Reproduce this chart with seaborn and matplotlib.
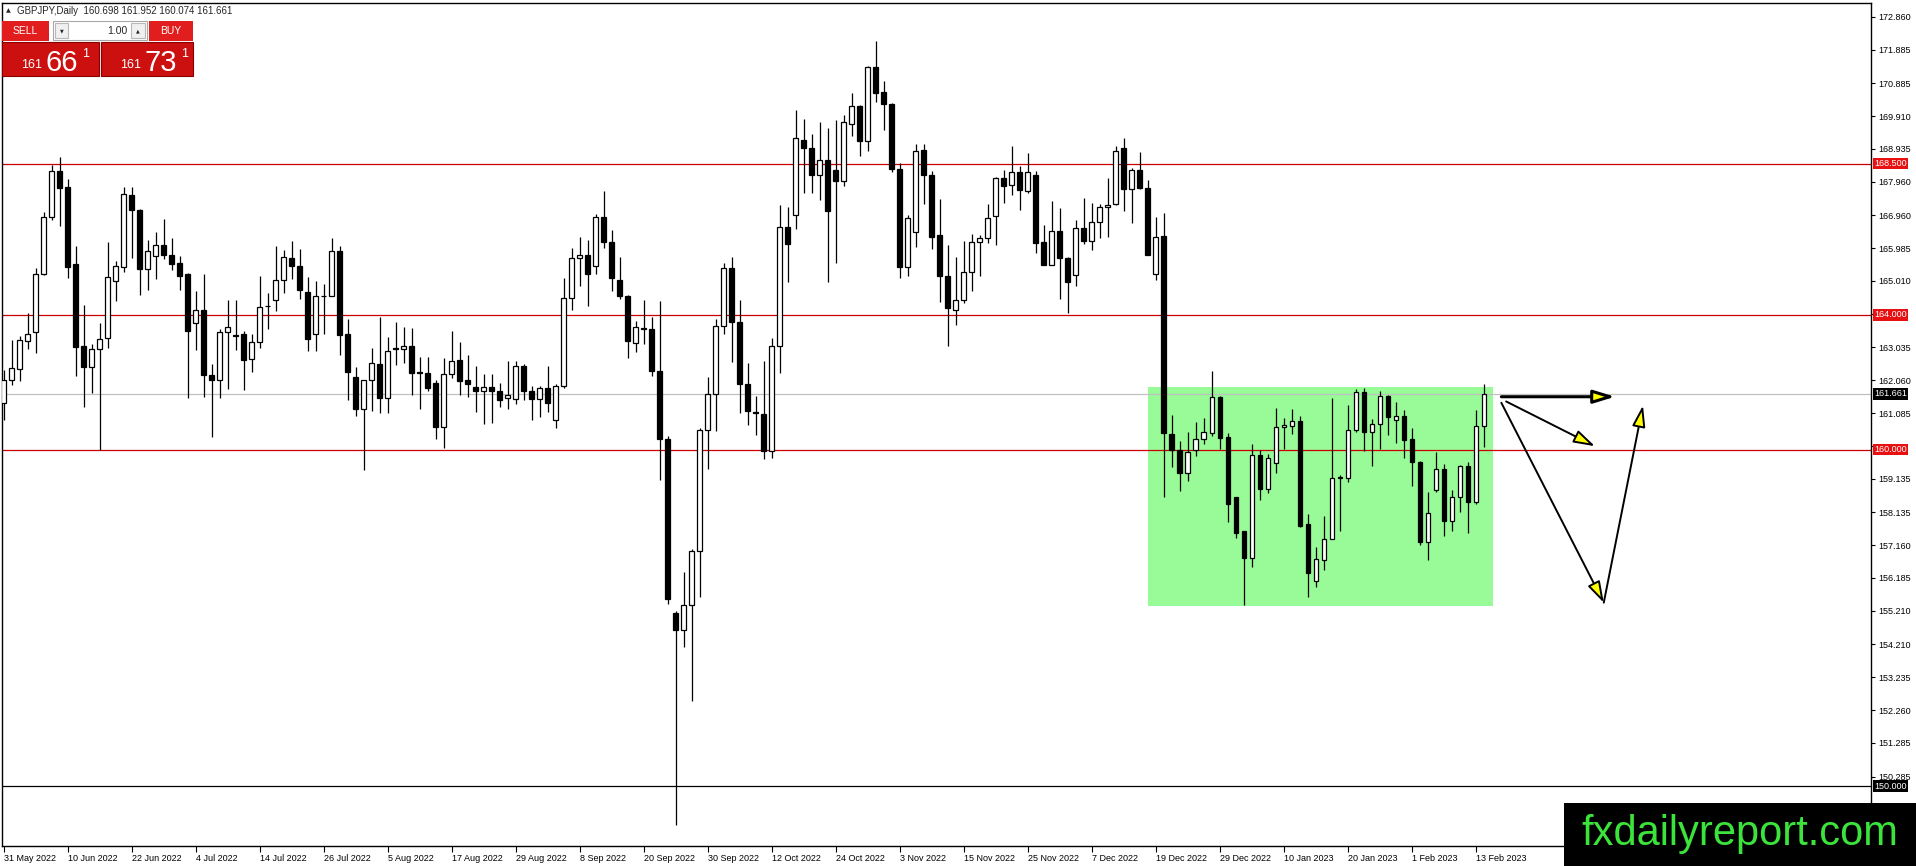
import numpy as np
import pandas as pd
import matplotlib
matplotlib.use("Agg")
import matplotlib.pyplot as plt
import matplotlib.patches as patches
from matplotlib.transforms import Affine2D, blended_transform_factory
import seaborn as sns

W, H = 1916, 866

# ---- data (GBPJPY daily) ----
dates = pd.bdate_range("2022-05-31", periods=186)

open_ = [
    161.37, 162.07, 162.40, 163.24, 163.50, 165.22, 166.91, 168.29, 167.79, 165.50,
    163.07, 162.46, 163.00, 163.32, 165.02, 165.44, 167.55, 167.13, 165.37, 165.76,
    166.09, 165.79, 165.53, 165.21, 163.77, 164.16, 162.21, 162.08, 163.48, 163.39,
    163.43, 162.68, 163.21, 164.28, 164.43, 165.05, 165.70, 165.46, 164.69, 163.42,
    164.55, 164.57, 165.91, 163.42, 162.17, 161.20, 162.07, 162.54, 161.54, 163.02,
    163.00, 163.09, 162.30, 162.29, 161.97, 160.68, 162.26, 162.65, 162.06, 161.85,
    161.73, 161.87, 161.75, 161.53, 161.50, 162.47, 161.75, 161.49, 161.84, 160.87,
    161.90, 164.49, 165.69, 165.78, 165.45, 166.92, 166.16, 165.05, 164.57, 163.16,
    163.60, 163.57, 162.32, 160.32, 155.13, 154.64, 155.39, 156.98, 160.59, 161.64,
    163.66, 165.39, 163.78, 161.96, 161.11, 161.06, 159.97, 163.07, 166.62, 166.98,
    169.21, 168.96, 168.17, 168.61, 168.30, 167.98, 169.67, 170.20, 169.18, 171.37,
    170.63, 170.26, 168.33, 165.43, 166.47, 168.90, 168.15, 166.39, 165.15, 164.14,
    164.43, 165.27, 166.16, 166.30, 166.95, 168.06, 167.87, 168.26, 167.67, 168.16,
    166.16, 165.47, 166.49, 165.69, 165.19, 166.57, 166.21, 166.75, 167.20, 167.29,
    168.95, 167.75, 168.30, 167.76, 165.21, 166.34, 160.47, 160.00, 159.30, 160.00,
    160.30, 160.49, 161.55, 160.37, 158.58, 157.57, 156.77, 159.85, 158.83, 159.59,
    160.68, 160.71, 160.84, 157.79, 156.09, 156.72, 157.35, 159.15, 159.15, 160.59,
    161.70, 160.51, 160.76, 161.58, 160.88, 160.99, 160.30, 159.64, 157.25, 158.80,
    159.43, 157.87, 158.58, 159.50, 158.44, 160.698,
]
high = [
    162.36, 163.27, 163.37, 164.05, 165.41, 167.05, 168.46, 168.68, 168.05, 166.06,
    164.29, 163.13, 163.75, 166.18, 165.61, 167.79, 167.79, 167.15, 166.24, 166.48,
    166.86, 166.29, 165.76, 165.25, 164.70, 165.23, 162.54, 163.58, 164.44, 164.44,
    163.52, 163.43, 165.16, 164.66, 166.04, 165.92, 166.21, 165.95, 165.12, 165.01,
    164.93, 166.30, 166.04, 163.87, 162.46, 162.08, 163.01, 163.93, 163.34, 163.80,
    163.64, 163.60, 162.74, 162.74, 162.08, 162.71, 163.51, 163.20, 162.81, 162.47,
    162.26, 162.26, 161.97, 162.64, 162.63, 162.55, 161.88, 161.88, 162.47, 161.96,
    165.09, 165.98, 166.31, 166.22, 167.01, 167.67, 166.53, 165.72, 164.60, 163.81,
    164.45, 163.93, 164.40, 160.41, 155.20, 156.36, 157.06, 160.64, 162.17, 163.87,
    165.54, 165.72, 164.45, 162.58, 161.58, 162.64, 163.31, 167.26, 167.20, 170.09,
    169.81, 169.38, 169.73, 169.56, 169.78, 169.93, 170.60, 170.25, 171.40, 172.13,
    170.96, 170.31, 168.53, 166.97, 169.08, 169.08, 168.29, 167.44, 166.09, 165.72,
    166.19, 166.41, 166.38, 167.30, 168.09, 168.32, 169.01, 168.44, 168.80, 168.27,
    166.67, 167.40, 167.17, 165.71, 166.82, 167.47, 167.33, 167.30, 168.06, 169.03,
    169.26, 168.36, 168.83, 168.01, 166.90, 167.02, 161.04, 160.24, 160.51, 160.81,
    160.93, 162.33, 161.60, 160.50, 158.60, 157.59, 160.17, 160.00, 159.87, 161.23,
    160.94, 161.21, 160.99, 158.09, 157.10, 158.02, 161.52, 159.23, 161.31, 161.80,
    161.83, 160.91, 161.73, 161.63, 161.41, 161.18, 160.64, 159.66, 158.73, 159.94,
    159.57, 158.80, 159.54, 159.62, 161.18, 161.952,
]
low = [
    160.88, 161.92, 162.05, 162.98, 162.86, 165.20, 166.82, 166.63, 165.10, 162.19,
    161.27, 161.69, 159.99, 163.01, 164.42, 165.28, 165.70, 164.58, 164.74, 165.07,
    165.67, 165.34, 164.73, 161.52, 162.97, 161.55, 160.37, 161.54, 161.79, 162.95,
    161.77, 162.30, 163.02, 163.58, 164.11, 164.65, 165.07, 164.48, 162.94, 162.94,
    163.42, 164.56, 162.81, 161.47, 161.01, 159.40, 161.16, 161.08, 161.08, 162.51,
    162.58, 161.62, 161.21, 161.75, 160.31, 160.04, 162.13, 161.63, 161.57, 161.13,
    160.75, 160.80, 161.27, 161.20, 161.35, 161.47, 160.87, 160.97, 161.12, 160.65,
    161.84, 164.16, 164.87, 164.28, 165.21, 165.98, 164.72, 164.46, 162.73, 162.91,
    163.13, 162.19, 159.10, 155.42, 148.85, 154.14, 152.53, 155.61, 159.42, 160.56,
    163.43, 162.60, 161.08, 160.74, 160.44, 159.71, 159.74, 162.29, 164.99, 166.56,
    167.61, 167.62, 167.42, 164.98, 165.53, 167.82, 169.31, 168.73, 168.87, 170.34,
    169.50, 168.26, 165.10, 165.15, 166.01, 167.29, 165.95, 164.39, 163.07, 163.70,
    164.36, 164.71, 165.16, 166.13, 166.09, 167.33, 167.57, 167.13, 167.61, 165.83,
    165.47, 165.47, 164.48, 164.05, 164.87, 166.11, 165.94, 166.28, 166.31, 167.27,
    167.09, 166.72, 167.73, 165.79, 165.05, 158.58, 159.48, 158.78, 159.08, 159.82,
    160.17, 160.40, 160.02, 157.84, 157.37, 155.37, 156.50, 158.50, 158.70, 159.30,
    160.02, 160.47, 157.71, 155.63, 155.92, 156.41, 157.33, 157.59, 159.03, 160.51,
    159.97, 159.50, 160.02, 160.42, 160.19, 159.74, 158.93, 157.15, 156.72, 158.73,
    157.43, 157.59, 158.14, 157.51, 158.37, 160.074,
]
close = [
    162.07, 162.41, 163.25, 163.43, 165.23, 166.92, 168.29, 167.77, 165.44, 163.05,
    162.46, 163.00, 163.29, 165.12, 165.46, 167.60, 167.11, 165.37, 165.91, 166.09,
    165.79, 165.51, 165.16, 163.53, 164.16, 162.22, 162.08, 163.48, 163.65, 163.37,
    162.67, 163.21, 164.25, 164.26, 165.05, 165.73, 165.45, 164.74, 163.29, 164.55,
    164.57, 165.91, 163.41, 162.31, 161.20, 162.07, 162.56, 161.54, 162.94, 163.00,
    163.09, 162.28, 162.28, 161.84, 160.68, 162.25, 162.63, 162.05, 161.96, 161.73,
    161.87, 161.73, 161.47, 161.61, 162.47, 161.75, 161.49, 161.84, 161.37, 161.90,
    164.49, 165.68, 165.78, 165.21, 166.92, 166.16, 165.09, 164.57, 163.22, 163.64,
    163.57, 162.32, 160.32, 155.57, 154.64, 155.39, 156.98, 160.59, 161.64, 163.66,
    165.39, 163.78, 161.96, 161.15, 161.08, 159.97, 163.07, 166.62, 166.12, 169.26,
    168.96, 168.15, 168.61, 167.09, 167.98, 169.72, 170.20, 169.18, 171.37, 170.61,
    170.26, 168.33, 165.43, 166.88, 168.87, 168.15, 166.33, 165.15, 164.22, 164.43,
    165.27, 166.16, 166.30, 166.88, 168.06, 167.84, 168.26, 167.72, 168.24, 166.13,
    165.47, 166.49, 165.69, 164.99, 166.57, 166.21, 166.75, 167.20, 167.26, 168.88,
    167.73, 168.30, 167.76, 165.79, 166.31, 160.49, 160.00, 159.30, 159.94, 160.30,
    160.51, 161.55, 160.35, 158.37, 157.51, 156.77, 159.85, 158.83, 159.74, 160.66,
    160.73, 160.84, 157.74, 156.33, 156.75, 157.35, 159.15, 159.18, 160.59, 161.70,
    160.51, 160.76, 161.58, 160.96, 160.99, 160.27, 159.64, 157.25, 158.11, 159.41,
    157.87, 158.58, 159.50, 158.44, 160.71, 161.661,
]

bid = 161.661
ask = 161.731
red_levels = [168.5, 164.0, 160.0]
black_level = 150.0
price_ticks = [172.860, 171.885, 170.885, 169.910, 168.935, 167.960, 166.960,
               165.985, 165.010, 164.035, 163.035, 162.060, 161.085, 160.110,
               159.135, 158.135, 157.160, 156.185, 155.210, 154.210, 153.235,
               152.260, 151.285, 150.285]
# these two sit under the 164.000 / 160.000 price-line labels
hidden_ticks = [164.035, 160.110]

# range box (bar index span, price span)
box_bars = (143.1, 186.1)
box_prices = (155.35, 161.85)

# drawn arrows: (bar0, price0, bar1, price1, line width)
arrows = [
    (187.2, 161.57, 201.4, 161.57, 2.2),
    (187.8, 161.43, 198.9, 160.10, 1.4),
    (187.2, 161.39, 200.0, 155.45, 1.4),
    (200.0, 155.45, 204.9, 161.31, 1.4),
]

# ---- figure ----
sns.set_style("white")
plt.rcParams['font.family'] = ['Liberation Sans', 'DejaVu Sans']

fig = plt.figure(figsize=(W / 100, H / 100), dpi=100)
fig.patch.set_facecolor('white')
ax = fig.add_axes([2 / W, 20 / H, 1869 / W, 843 / H])

df = pd.DataFrame({'date': dates, 'open': open_, 'high': high,
                   'low': low, 'close': close})
df['i'] = np.arange(len(df))
up = df['close'] >= df['open']
df['bottom'] = df[['open', 'close']].min(axis=1)
df['body'] = (df['close'] - df['open']).abs()

ax.add_patch(patches.Rectangle((box_bars[0], box_prices[0]),
                               box_bars[1] - box_bars[0],
                               box_prices[1] - box_prices[0],
                               fc='#98fb98', ec='none', zorder=0))

for lvl in red_levels:
    ax.axhline(lvl, color='#cc0000', lw=0.9, zorder=1)
ax.axhline(black_level, color='black', lw=0.9, zorder=1)
ax.axhline(bid, color='#c0c0c0', lw=0.9, zorder=1)

# candles
ax.vlines(df['i'], df['low'], df['high'], color='black', lw=0.9, zorder=2)
ax.bar(df['i'][up], df['body'][up], bottom=df['bottom'][up], width=0.55,
       color='white', edgecolor='black', linewidth=0.9, zorder=3)
ax.bar(df['i'][~up], df['body'][~up], bottom=df['bottom'][~up], width=0.55,
       color='black', edgecolor='black', linewidth=0.9, zorder=3)

for x0, y0, x1, y1, lw in arrows:
    ax.annotate('', xy=(x1, y1), xytext=(x0, y0),
                arrowprops=dict(arrowstyle='-|>,head_length=1.3,head_width=0.4',
                                fc='#ffff00', ec='black', lw=lw,
                                shrinkA=0, shrinkB=0),
                annotation_clip=False, zorder=4)

ax.set_xlim(-0.19, 233.4)
ax.set_ylim(148.22, 173.27)

for s in ax.spines.values():
    s.set_color('black')
    s.set_linewidth(1.0)

ax.yaxis.tick_right()
ax.set_yticks(price_ticks)
ax.set_yticklabels(['' if v in hidden_ticks else f"{v:.3f}" for v in price_ticks])
ax.tick_params(axis='y', direction='out', length=3, width=0.8, pad=2,
               labelsize=6.5, right=True, left=False, colors='black')

tick_idx = list(range(0, len(dates), 8))
ax.set_xticks(tick_idx)
ax.set_xticklabels([f"{dates[k].day} {dates[k]:%b %Y}" for k in tick_idx])
ax.tick_params(axis='x', direction='out', length=4, width=0.8, pad=1.5,
               labelsize=6.5, bottom=True, colors='black')
for lbl in ax.get_xticklabels():
    lbl.set_horizontalalignment('left')

blend = blended_transform_factory(ax.transAxes, ax.transData)
for lvl in red_levels:
    ax.text(1.0016, lvl, f"{lvl:.3f}", transform=blend, ha='left', va='center',
            fontsize=6.5, color='white', clip_on=False, zorder=6,
            bbox=dict(boxstyle='square,pad=0.15', fc='#e81010', ec='none'))
for lvl in [bid, black_level]:
    ax.text(1.0016, lvl, f"{lvl:.3f}", transform=blend, ha='left', va='center',
            fontsize=6.5, color='white', clip_on=False, zorder=6,
            bbox=dict(boxstyle='square,pad=0.15', fc='black', ec='none'))

# ---- overlay in pixel coordinates (top-left origin) ----
px = Affine2D().scale(1 / W, -1 / H).translate(0, 1) + fig.transFigure


def rect(x, y, w, h, fc, ec='none', lw=0.8):
    fig.add_artist(patches.Rectangle((x, y), w, h, transform=px,
                                     fc=fc, ec=ec, lw=lw))


fig.text(6, 11, '▲', transform=px, fontsize=4.5, va='center',
         family=['DejaVu Sans'])
fig.text(17, 11, f"GBPJPY,Daily  {open_[-1]:.3f} {high[-1]:.3f} "
         f"{low[-1]:.3f} {close[-1]:.3f}",
         transform=px, fontsize=7, va='center')

rect(2, 21, 47, 20, '#e21d1d')
rect(149, 21, 44, 20, '#e21d1d')
fig.text(25, 31, 'SELL', transform=px, fontsize=7.5, color='white',
         ha='center', va='center')
fig.text(171, 31, 'BUY', transform=px, fontsize=7.5, color='white',
         ha='center', va='center')
rect(53, 21, 94, 19, 'white', ec='#a8a8a8')
rect(55, 23, 13, 15, '#f0f0f0', ec='#b8b8b8')
rect(131, 23, 14, 15, '#f0f0f0', ec='#b8b8b8')
fig.text(61.5, 30.5, '▼', transform=px, fontsize=3.5, ha='center', va='center',
         family=['DejaVu Sans'])
fig.text(138, 30.5, '▲', transform=px, fontsize=3.5, ha='center', va='center',
         family=['DejaVu Sans'])
fig.text(127, 30.5, '1.00', transform=px, fontsize=7.5, ha='right', va='center')

for x0, w, price in [(2, 97, bid), (101, 92, ask)]:
    s = f"{price:.3f}"
    rect(x0, 42, w, 34, '#cc1010', ec='#8a0000')
    fig.text(x0 + 19, 68, s[:3], transform=px, fontsize=9, color='white',
             va='baseline')
    fig.text(x0 + 44, 71, s[4:6], transform=px, fontsize=21, color='white',
             va='baseline')
    fig.text(x0 + 80, 57, s[6], transform=px, fontsize=9, color='white',
             va='baseline')

# watermark
rect(1564, 803, 352, 63, 'black')
fig.text(1740, 834, 'fxdailyreport.com', transform=px, fontsize=30,
         color='#3be33b', ha='center', va='center', family=['Liberation Sans'])

fig.savefig('out.png', dpi=100)
